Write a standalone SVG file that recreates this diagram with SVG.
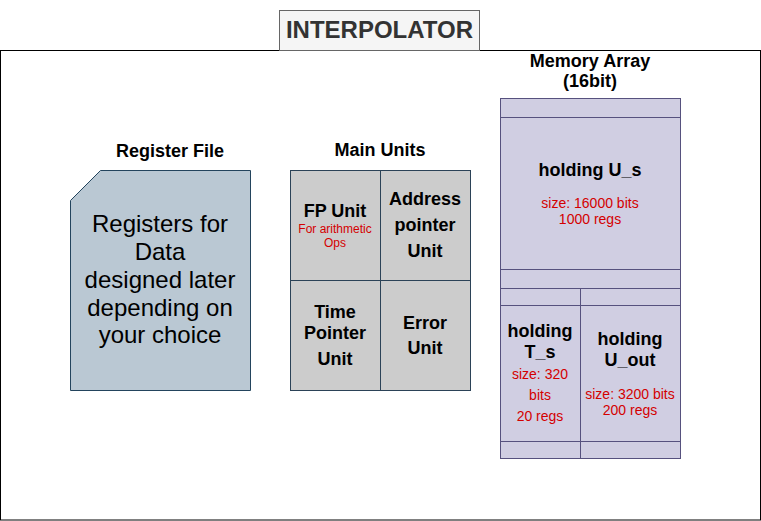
<svg xmlns="http://www.w3.org/2000/svg" width="761" height="521" viewBox="0 0 761 521">
<style>
text{font-family:"Liberation Sans",Arial,sans-serif;text-anchor:middle}
.b{font-weight:bold;font-size:18px;fill:#000}
.r{fill:#d40000;font-size:14px}
.rs{fill:#d40000;font-size:12px}
.big{font-size:24px;fill:#000}
.mu{fill:#cccccc;stroke:#2b4257;stroke-width:1}
.mem{fill:#d0cee2;stroke:#56517e;stroke-width:1}
</style>
<rect x="0" y="0" width="761" height="521" fill="#ffffff"/>
<g id="frame">
<rect x="0.5" y="50.5" width="760" height="469.5" fill="#ffffff" stroke="#000000"/>
</g>
<g id="title">
<rect x="279.5" y="10.5" width="200" height="40" fill="#f5f5f5" stroke="#666666"/>
<text x="379.5" y="38" style="font-size:24px;font-weight:bold;fill:#333333">INTERPOLATOR</text>
</g>
<g id="register-file">
<text class="b" x="170" y="157">Register File</text>
<path d="M100.5 170.5 H250.5 V390.5 H70.5 V200.5 Z" fill="#bac8d3" stroke="#23445d"/>
<text class="big" x="160" y="232">Registers for</text>
<text class="big" x="160" y="260">Data</text>
<text class="big" x="160" y="288">designed later</text>
<text class="big" x="160" y="315.5">depending on</text>
<text class="big" x="160" y="343">your choice</text>
</g>
<g id="main-units">
<text class="b" x="380" y="156">Main Units</text>
<rect class="mu" x="290.5" y="170.5" width="90" height="110"/>
<rect class="mu" x="380.5" y="170.5" width="90" height="110"/>
<rect class="mu" x="290.5" y="280.5" width="90" height="110"/>
<rect class="mu" x="380.5" y="280.5" width="90" height="110"/>
<text class="b" x="335" y="217">FP Unit</text>
<text class="rs" x="335" y="232.5">For arithmetic</text>
<text class="rs" x="335" y="246.5">Ops</text>
<text class="b" x="425" y="205">Address</text>
<text class="b" x="425" y="231">pointer</text>
<text class="b" x="425" y="257">Unit</text>
<text class="b" x="335" y="318">Time</text>
<text class="b" x="335" y="338.5">Pointer</text>
<text class="b" x="335" y="365">Unit</text>
<text class="b" x="425" y="328.5">Error</text>
<text class="b" x="425" y="354">Unit</text>
</g>
<g id="memory-array">
<text class="b" x="590" y="66.5">Memory Array</text>
<text class="b" x="590" y="87">(16bit)</text>
<rect class="mem" x="500.5" y="98.5" width="180" height="19"/>
<rect class="mem" x="500.5" y="117.5" width="180" height="152"/>
<rect class="mem" x="500.5" y="269.5" width="180" height="19"/>
<rect class="mem" x="500.5" y="288.5" width="80" height="17"/>
<rect class="mem" x="580.5" y="288.5" width="100" height="17"/>
<rect class="mem" x="500.5" y="305.5" width="80" height="136"/>
<rect class="mem" x="580.5" y="305.5" width="100" height="136"/>
<rect class="mem" x="500.5" y="441.5" width="80" height="17"/>
<rect class="mem" x="580.5" y="441.5" width="100" height="17"/>
<text class="b" x="590" y="176">holding U_s</text>
<text class="r" x="590" y="207.5">size: 16000 bits</text>
<text class="r" x="590" y="224">1000 regs</text>
<text class="b" x="540" y="337">holding</text>
<text class="b" x="540" y="357.5">T_s</text>
<text class="r" x="540" y="378.5">size: 320</text>
<text class="r" x="540" y="399.5">bits</text>
<text class="r" x="540" y="420.5">20 regs</text>
<text class="b" x="630" y="345">holding</text>
<text class="b" x="630" y="366">U_out</text>
<text class="r" x="630" y="398.5">size: 3200 bits</text>
<text class="r" x="630" y="414.5">200 regs</text>
</g>
<g id="connectors"></g>
</svg>
